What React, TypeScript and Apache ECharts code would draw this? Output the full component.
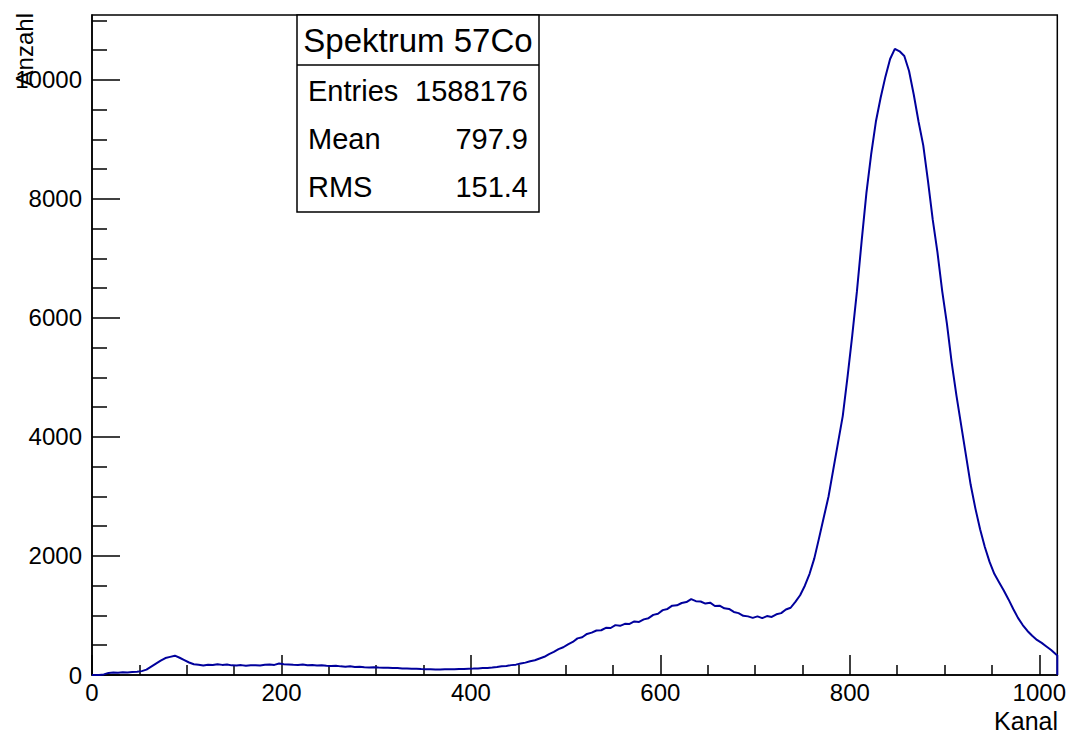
import React, { useEffect, useRef } from 'react';
import * as echarts from 'echarts';

// ---- data ----
const BIN_WIDTH = 5;
const X_MAX = 1019;
const Y_MAX = 11090;

const xMajorTicks = [0, 200, 400, 600, 800, 1000];
const xMinorTicks = [50, 100, 150, 250, 300, 350, 450, 500, 550, 650, 700, 750, 850, 900, 950];
const yMajorTicks = [0, 2000, 4000, 6000, 8000, 10000];
const yMinorTicks = [500, 1000, 1500, 2500, 3000, 3500, 4500, 5000, 5500, 6500, 7000, 7500, 8500, 9000, 9500, 10500, 11000];

// counts per 5-channel bin, starting at channel 0
const counts = [
  0, 0, 10, 35, 40, 38, 45, 44, 50, 55,
  65, 90, 140, 190, 240, 285, 305, 325, 290, 250,
  210, 180, 172, 160, 172, 168, 182, 170, 178, 162,
  160, 166, 155, 162, 165, 158, 172, 176, 170, 192,
  182, 178, 172, 168, 175, 162, 168, 158, 164, 155,
  150, 154, 145, 140, 146, 136, 137, 130, 128, 131,
  124, 122, 121, 116, 116, 110, 111, 106, 105, 100,
  98, 96, 94, 92, 96, 97, 95, 101, 100, 106,
  108, 111, 116, 119, 126, 134, 146, 152, 166, 174,
  192, 208, 232, 248, 278, 306, 352, 388, 434, 466,
  515, 555, 615, 635, 690, 712, 748, 752, 792, 790,
  838, 826, 860, 858, 900, 892, 935, 955, 1010, 1030,
  1090, 1110, 1165, 1170, 1210, 1225, 1275, 1240, 1235, 1200,
  1215, 1160, 1165, 1120, 1110, 1060, 1040, 995, 985, 960,
  985, 955, 990, 975, 1020, 1040, 1100, 1130, 1230, 1340,
  1500, 1700, 1960, 2300, 2650, 3000, 3450, 3900, 4350, 5000,
  5700, 6450, 7300, 8100, 8750, 9300, 9700, 10050, 10350, 10520,
  10480, 10400, 10150, 9750, 9300, 8900, 8300, 7650, 7100, 6450,
  5900, 5250, 4700, 4200, 3700, 3200, 2800, 2450, 2150, 1900,
  1700, 1560, 1420, 1270, 1110, 960, 840, 740, 660, 590,
  540, 480, 420, 350,
];

const statTitle = 'Spektrum 57Co';
const statLabels = ['Entries', 'Mean', 'RMS'];
const statValues = ['1588176', '797.9', '151.4'];

const FONT = '"Liberation Sans", Arial, Helvetica, sans-serif';

export default function App() {
  const ref = useRef<HTMLDivElement>(null);

  useEffect(() => {
    if (!ref.current) return;
    const chart = echarts.init(ref.current, undefined, { renderer: 'svg' });

    const data: number[][] = [[0, 0]];
    counts.forEach((v, i) => data.push([i * BIN_WIDTH + BIN_WIDTH / 2, v]));
    data.push([X_MAX, counts[counts.length - 1] - 20]);
    data.push([X_MAX, 0]);

    const statRows = statLabels.flatMap((lab, i) => [
      {
        type: 'text',
        left: 308,
        top: 92 + i * 48 - 16,
        style: { text: lab, font: `29px ${FONT}`, fill: '#000' },
        z: 101,
      },
      {
        type: 'text',
        right: 1069 - 528,
        top: 92 + i * 48 - 16,
        style: { text: statValues[i], font: `29px ${FONT}`, fill: '#000', textAlign: 'right' },
        z: 101,
      },
    ]);

    const baseX = {
      type: 'value',
      min: 0,
      max: X_MAX,
      position: 'bottom',
      splitLine: { show: false },
    };
    const baseY = {
      type: 'value',
      min: 0,
      max: Y_MAX,
      position: 'left',
      splitLine: { show: false },
    };
    const plain = (v: number) => String(Math.round(v));

    chart.setOption({
      animation: false,
      backgroundColor: '#fff',
      grid: {
        left: 92,
        right: 11,
        top: 15,
        bottom: 58,
        show: true,
        borderColor: '#000',
        borderWidth: 1.5,
        backgroundColor: 'transparent',
      },
      xAxis: [
        {
          ...baseX,
          interval: 200,
          axisLine: { show: true, lineStyle: { color: '#000', width: 1.5 } },
          axisTick: {
            show: true,
            inside: true,
            length: 20,
            customValues: xMajorTicks,
            lineStyle: { color: '#000', width: 1.5 },
          },
          axisLabel: {
            show: true,
            customValues: xMajorTicks,
            formatter: plain,
            fontSize: 24,
            fontFamily: FONT,
            color: '#000',
            margin: 5,
          },
        },
        {
          ...baseX,
          interval: 50,
          axisLine: { show: false },
          axisTick: {
            show: true,
            inside: true,
            length: 10,
            customValues: xMinorTicks,
            lineStyle: { color: '#000', width: 1.5 },
          },
          axisLabel: { show: false },
        },
      ],
      yAxis: [
        {
          ...baseY,
          interval: 2000,
          axisLine: { show: true, lineStyle: { color: '#000', width: 1.5 } },
          axisTick: {
            show: true,
            inside: true,
            length: 28,
            customValues: yMajorTicks,
            lineStyle: { color: '#000', width: 1.5 },
          },
          axisLabel: {
            show: true,
            customValues: yMajorTicks,
            formatter: plain,
            fontSize: 24,
            fontFamily: FONT,
            color: '#000',
            margin: 10,
          },
        },
        {
          ...baseY,
          interval: 500,
          axisLine: { show: false },
          axisTick: {
            show: true,
            inside: true,
            length: 15,
            customValues: yMinorTicks,
            lineStyle: { color: '#000', width: 1.5 },
          },
          axisLabel: { show: false },
        },
      ],
      series: [
        {
          type: 'line',
          xAxisIndex: 0,
          yAxisIndex: 0,
          data,
          symbol: 'none',
          lineStyle: { color: '#00009c', width: 2 },
          clip: true,
          z: 5,
        },
      ],
      graphic: [
        {
          type: 'text',
          x: 24,
          y: 13,
          rotation: Math.PI / 2,
          style: {
            text: 'Anzahl',
            font: `24px ${FONT}`,
            fill: '#000',
            textAlign: 'right',
            textVerticalAlign: 'middle',
          },
          z: 100,
        },
        {
          type: 'text',
          right: 11,
          top: 708,
          style: { text: 'Kanal', font: `25px ${FONT}`, fill: '#000' },
          z: 100,
        },
        {
          type: 'rect',
          shape: { x: 297, y: 15, width: 242, height: 197 },
          style: { fill: '#fff', stroke: '#000', lineWidth: 1.5 },
          z: 100,
        },
        {
          type: 'line',
          shape: { x1: 297, y1: 65, x2: 539, y2: 65 },
          style: { stroke: '#000', lineWidth: 1.5 },
          z: 101,
        },
        {
          type: 'text',
          x: 418,
          y: 40,
          style: {
            text: statTitle,
            font: `33px ${FONT}`,
            fill: '#000',
            textAlign: 'center',
            textVerticalAlign: 'middle',
          },
          z: 101,
        },
        ...statRows,
      ],
    });

    return () => chart.dispose();
  }, []);

  return (
    <div
      ref={ref}
      style={{ position: 'fixed', left: 0, top: 0, width: 1069, height: 733, background: '#fff' }}
    />
  );
}
